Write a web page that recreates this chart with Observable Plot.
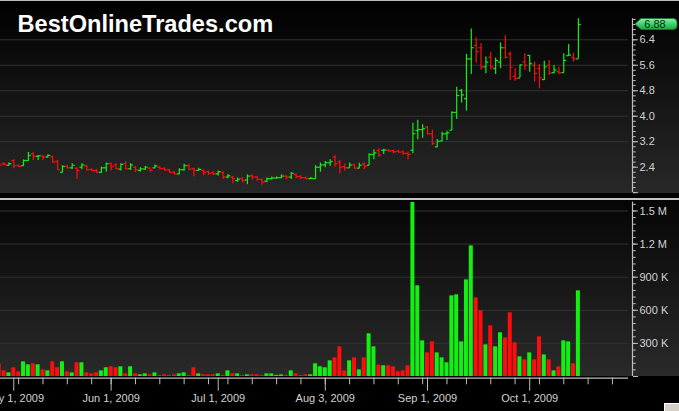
<!DOCTYPE html>
<html>
<head>
<meta charset="utf-8">
<script src="https://cdn.jsdelivr.net/npm/d3@7"></script>
<script src="https://cdn.jsdelivr.net/npm/@observablehq/plot@0.6"></script>
<style>
html, body { margin: 0; padding: 0; background: #000; }
#chart { position: relative; width: 679px; height: 411px; overflow: hidden; background: #000; }
#chart svg { display: block; }
#btn { position: absolute; left: 664px; top: 403px; width: 15px; height: 8px; background: #d4d0c8;
       border-top: 1px solid #fff; border-left: 1px solid #fff; box-sizing: border-box; }
</style>
</head>
<body>
<div id="chart"><div id="btn"></div></div>
<script>
// ---- categories (trading calendar) ----
const startDate = "2009-04-28";
const endDate = "2009-10-30";
const holidays = ["2009-05-25", "2009-07-03", "2009-09-07"];

// ---- OHLC series (one value per trading day from Apr 28 to Oct 15, 2009) ----
const open = [
  2.51, 2.51, 2.46, 2.61, 2.45, 2.45, 2.61, 2.82, 2.74, 2.75,
  2.72, 2.72, 2.58, 2.24, 2.43, 2.38, 2.37, 2.40, 2.44, 2.33,
  2.30, 2.24, 2.38, 2.51, 2.47, 2.34, 2.51, 2.35, 2.40, 2.30,
  2.34, 2.37, 2.38, 2.40, 2.36, 2.32, 2.24, 2.19, 2.32, 2.45,
  2.35, 2.30, 2.30, 2.26, 2.23, 2.19, 2.23, 2.09, 2.09, 1.98,
  2.04, 2.00, 2.13, 2.09, 2.01, 1.96, 2.04, 2.06, 2.07, 2.12,
  2.09, 2.17, 2.11, 2.07, 2.04, 2.04, 2.40, 2.47, 2.54, 2.72,
  2.56, 2.42, 2.38, 2.47, 2.37, 2.50, 2.46, 2.80, 2.92, 2.93,
  2.93, 2.92, 2.90, 2.88, 2.83, 2.93, 3.55, 3.58, 3.66, 3.45,
  3.04, 3.22, 3.45, 3.56, 4.12, 4.81, 4.55, 5.80, 6.22, 6.15,
  5.55, 5.85, 5.50, 5.70, 6.15, 5.96, 5.25, 5.20, 5.70, 5.91,
  5.60, 5.50, 5.15, 5.60, 5.37, 5.40, 5.37, 5.90, 5.85, 5.80
];
const high = [
  2.53, 2.54, 2.53, 2.63, 2.47, 2.63, 2.86, 2.86, 2.77, 2.77,
  2.79, 2.74, 2.61, 2.45, 2.45, 2.51, 2.38, 2.51, 2.45, 2.35,
  2.33, 2.40, 2.53, 2.53, 2.51, 2.51, 2.58, 2.51, 2.42, 2.38,
  2.42, 2.38, 2.47, 2.42, 2.38, 2.33, 2.27, 2.35, 2.49, 2.49,
  2.37, 2.37, 2.32, 2.28, 2.26, 2.28, 2.26, 2.17, 2.11, 2.06,
  2.07, 2.16, 2.16, 2.11, 2.04, 2.06, 2.09, 2.09, 2.16, 2.13,
  2.23, 2.19, 2.13, 2.09, 2.08, 2.45, 2.53, 2.58, 2.63, 2.76,
  2.61, 2.50, 2.53, 2.50, 2.52, 2.55, 2.82, 2.95, 2.98, 2.96,
  2.95, 2.94, 2.93, 2.92, 2.88, 3.78, 3.87, 3.73, 3.68, 3.56,
  3.27, 3.50, 3.53, 4.13, 4.91, 4.84, 5.94, 6.74, 6.46, 6.28,
  5.86, 6.01, 5.83, 6.30, 6.53, 6.01, 5.49, 5.61, 5.96, 5.91,
  5.70, 5.62, 5.73, 5.75, 5.59, 5.54, 5.96, 6.25, 5.98, 7.06
];
const low = [
  2.46, 2.45, 2.44, 2.35, 2.40, 2.43, 2.59, 2.61, 2.61, 2.61,
  2.69, 2.53, 2.30, 2.22, 2.34, 2.33, 2.01, 2.32, 2.28, 2.27,
  2.21, 2.21, 2.24, 2.28, 2.32, 2.28, 2.32, 2.30, 2.24, 2.24,
  2.30, 2.24, 2.35, 2.32, 2.27, 2.21, 2.16, 2.16, 2.27, 2.30,
  2.09, 2.27, 2.14, 2.14, 2.14, 2.12, 2.01, 2.04, 1.88, 1.93,
  1.90, 1.85, 2.00, 1.96, 1.83, 1.91, 2.00, 2.02, 2.04, 2.01,
  2.01, 2.04, 2.01, 2.01, 2.01, 2.02, 2.24, 2.38, 2.42, 2.40,
  2.19, 2.28, 2.37, 2.33, 2.35, 2.32, 2.45, 2.63, 2.71, 2.80,
  2.88, 2.82, 2.85, 2.77, 2.63, 2.82, 3.26, 3.31, 3.40, 3.08,
  3.01, 3.19, 3.24, 3.55, 3.90, 4.41, 4.16, 5.31, 5.67, 5.44,
  5.33, 5.44, 5.31, 5.49, 5.80, 5.12, 5.10, 5.20, 5.44, 5.38,
  5.07, 4.86, 5.12, 5.28, 5.33, 5.31, 5.36, 5.88, 5.70, 5.80
];
const close = [
  2.47, 2.49, 2.51, 2.45, 2.42, 2.61, 2.77, 2.74, 2.76, 2.72,
  2.77, 2.56, 2.32, 2.42, 2.38, 2.46, 2.30, 2.47, 2.32, 2.30,
  2.24, 2.38, 2.51, 2.42, 2.35, 2.49, 2.35, 2.47, 2.32, 2.35,
  2.40, 2.30, 2.44, 2.36, 2.32, 2.24, 2.19, 2.32, 2.45, 2.34,
  2.30, 2.33, 2.24, 2.21, 2.19, 2.26, 2.09, 2.13, 2.04, 2.02,
  1.98, 2.12, 2.09, 2.02, 1.93, 2.04, 2.06, 2.07, 2.12, 2.09,
  2.21, 2.11, 2.07, 2.04, 2.05, 2.40, 2.47, 2.54, 2.58, 2.51,
  2.40, 2.38, 2.47, 2.37, 2.46, 2.42, 2.80, 2.85, 2.78, 2.94,
  2.90, 2.88, 2.87, 2.84, 2.80, 3.45, 3.58, 3.61, 3.45, 3.14,
  3.21, 3.45, 3.48, 4.12, 4.65, 4.67, 5.80, 6.15, 6.03, 5.55,
  5.70, 5.55, 5.75, 6.15, 5.85, 5.54, 5.18, 5.61, 5.60, 5.65,
  5.35, 5.20, 5.55, 5.35, 5.45, 5.36, 5.75, 5.92, 5.80, 6.88
];
// volume in thousands of shares
const volumeK = [
  112, 51, 33, 79, 42, 133, 106, 115, 106, 60,
  51, 133, 79, 133, 42, 33, 124, 124, 33, 24,
  33, 51, 79, 88, 79, 88, 24, 88, 24, 15,
  24, 15, 33, 10, 15, 10, 15, 24, 33, 10,
  79, 24, 15, 15, 15, 24, 10, 51, 24, 24,
  10, 15, 15, 15, 10, 24, 24, 10, 15, 10,
  51, 24, 10, 15, 15, 115, 88, 79, 142, 169,
  269, 51, 142, 169, 60, 169, 387, 269, 103, 97,
  97, 88, 42, 51, 97, 1577, 822, 323, 214, 314,
  214, 169, 124, 731, 740, 314, 876, 1184, 713, 595,
  287, 459, 269, 396, 350, 577, 305, 178, 151, 214,
  151, 359, 196, 151, 51, 88, 323, 314, 115, 776
];
// G = up day, R = down day (as coloured in the picture)
const direction = [..."RRGRRGGRGR" + "GRRGRGRGRR" + "RGGRRGRGRG" + "GRGRRRRGGR" +
  "RGRRRGRGRG" + "RGRRRGGGGR" + "GRRRGGGGGR" + "RRGRGRGGRG" +
  "RRRRRGGGRR" + "GGGGGGGGRR" + "GRGGRRRGRG" + "RRGRGRGGRG"];

// ---- tick labels ----
const dateTickDays = ["2009-05-01", "2009-06-01", "2009-07-01", "2009-08-03", "2009-09-01", "2009-10-01"];
const dateTickLabels = ["May 1, 2009", "Jun 1, 2009", "Jul 1, 2009", "Aug 3, 2009", "Sep 1, 2009", "Oct 1, 2009"];
const priceTicks = [1.6, 2.4, 3.2, 4.0, 4.8, 5.6, 6.4];
const priceTickLabels = ["", "2.4", "3.2", "4.0", "4.8", "5.6", "6.4"];
const priceGrid = [3.2, 4.0, 4.8, 5.6, 6.4];
const volTicks = [0, 300000, 600000, 900000, 1200000, 1500000];
const volTickLabels = ["", "300 K", "600 K", "900 K", "1.2 M", "1.5 M"];
const title = "BestOnlineTrades.com";

// ---- build table ----
const tradingDays = [];
for (let t = Date.parse(startDate); t <= Date.parse(endDate); t += 864e5) {
  const d = new Date(t), wd = d.getUTCDay(), s = d.toISOString().slice(0, 10);
  if (wd === 0 || wd === 6 || holidays.includes(s)) continue;
  tradingDays.push(s);
}
const weekday = s => new Date(s + "T00:00:00Z").getUTCDay();
const minorDateTicks = tradingDays.map((s, i) => i)
  .filter(i => i > 0 && weekday(tradingDays[i]) < weekday(tradingDays[i - 1]));
const majorDateTicks = dateTickDays.map(s => tradingDays.indexOf(s));

const GREEN = "#12f012", RED = "#ff0d0d";
const bars = close.map((c, i) => ({
  i, date: tradingDays[i], o: open[i], h: high[i], l: low[i], c,
  v: volumeK[i] * 1000, col: direction[i] === "G" ? GREEN : RED
}));

const xDomain = [0.27, 130.12];
const gridEnd = 129.3;
const AX = "#bdbdbd", TX = "#d2d2d2";
const font = "'Liberation Sans', Arial, sans-serif";

// ---- price panel ----
const price = Plot.plot({
  width: 679, height: 197,
  marginTop: 1, marginBottom: 4, marginLeft: 0, marginRight: 47,
  style: {
    background: "linear-gradient(to bottom, #bdbdbd 0px, #bdbdbd 1px, #000 1px, #282828 193px, #000 193px)",
    fontFamily: font, fontSize: "11px", color: TX, overflow: "visible"
  },
  x: {domain: xDomain, axis: null},
  y: {domain: [1.574, 7.602], axis: null},
  color: {type: "identity"},
  marks: [
    Plot.ruleY(priceGrid, {x1: xDomain[0], x2: gridEnd, stroke: "#333333"}),
    Plot.ruleX(bars, {x: "i", y1: "l", y2: "h", stroke: "col", strokeWidth: 1.2}),
    Plot.link(bars, {x1: d => d.i - 0.5, x2: "i", y1: "o", y2: "o", stroke: "col", strokeWidth: 1.2}),
    Plot.link(bars, {x1: "i", x2: d => d.i + 0.5, y1: "c", y2: "c", stroke: "col", strokeWidth: 1.2}),
    Plot.ruleX([xDomain[1]], {y1: 1.6, y2: 7.06, stroke: AX, strokeWidth: 1.2}),
    Plot.axisY(d3.range(0, 35).map(k => +(1.6 + 0.16 * k).toFixed(2)),
      {anchor: "right", tickSize: 2.7, tickFormat: () => "", stroke: AX, label: null}),
    Plot.axisY(priceTicks, {anchor: "right", tickSize: 5, tickPadding: 2, stroke: AX, fill: TX,
      fontSize: 11, label: null, tickFormat: d => priceTickLabels[priceTicks.indexOf(d)]}),
    Plot.text([title], {frameAnchor: "top-left", text: d => d, dx: 17, dy: 13.5,
      lineAnchor: "top", textAnchor: "start", fill: "white", fontSize: 23.6, fontWeight: "bold",
      fontFamily: font})
  ]
});

// last-price badge
{
  const last = bars[bars.length - 1];
  const yc = price.scale("y").apply(last.c);
  const svg = d3.select(price);
  const defs = svg.append("defs");
  const g = defs.append("linearGradient").attr("id", "badgeGrad").attr("x1", 0).attr("x2", 0).attr("y1", 0).attr("y2", 1);
  g.append("stop").attr("offset", "0%").attr("stop-color", "#8af0a6");
  g.append("stop").attr("offset", "50%").attr("stop-color", "#3fd468");
  g.append("stop").attr("offset", "100%").attr("stop-color", "#1fa845");
  const x0 = 635, x1 = 677, h = 5.5;
  svg.append("path")
    .attr("d", `M${x0},${yc} L${x0 + 6},${yc - h} L${x1 - 4},${yc - h} Q${x1},${yc - h} ${x1},${yc - 1.5} L${x1},${yc + 1.5} Q${x1},${yc + h} ${x1 - 4},${yc + h} L${x0 + 6},${yc + h} Z`)
    .attr("fill", "url(#badgeGrad)").attr("stroke", "#1b7a37").attr("stroke-width", 0.8);
  svg.append("text").attr("x", 655).attr("y", yc).attr("dy", "0.35em")
    .attr("text-anchor", "middle").attr("font-size", 11).attr("font-family", font)
    .attr("fill", "#07260e").text(last.c.toFixed(2));
}

// ---- volume panel ----
const volume = Plot.plot({
  width: 679, height: 214,
  marginTop: 3, marginBottom: 35, marginLeft: 0, marginRight: 47,
  style: {
    background: "linear-gradient(to bottom, #000 0px, #000 0.7px, #c4c4c4 0.7px, #c4c4c4 3px, #050505 3px, #2a2a2a 179px, #000 179px)",
    fontFamily: font, fontSize: "11px", color: TX, overflow: "visible"
  },
  x: {domain: xDomain, axis: null},
  y: {domain: [0, 1595000], axis: null},
  color: {type: "identity"},
  marks: [
    Plot.ruleY(volTicks.filter(v => v > 0), {x1: xDomain[0], x2: gridEnd, stroke: "#333333"}),
    Plot.rect(bars, {x1: d => d.i - 0.41, x2: d => d.i + 0.41, y1: 0, y2: "v", fill: "col"}),
    Plot.ruleX([xDomain[1]], {y1: 0, y2: 1580000, stroke: AX, strokeWidth: 1.2}),
    Plot.axisY(d3.range(0, 27).map(k => k * 60000),
      {anchor: "right", tickSize: 2.7, tickFormat: () => "", stroke: AX, label: null}),
    Plot.axisY(volTicks, {anchor: "right", tickSize: 5, tickPadding: 2, stroke: AX, fill: TX,
      fontSize: 11, label: null, tickFormat: d => volTickLabels[volTicks.indexOf(d)]}),
    Plot.ruleY([0], {x1: xDomain[0], x2: gridEnd, dy: 1.7, stroke: AX, strokeWidth: 1.3}),
    Plot.axisX(minorDateTicks, {anchor: "bottom", tickSize: 6.6, dy: 1.7, stroke: AX,
      tickFormat: () => "", label: null}),
    Plot.axisX(majorDateTicks, {anchor: "bottom", tickSize: 13, tickPadding: 2.5, dy: 1.7,
      stroke: AX, fill: TX, fontSize: 11, label: null,
      tickFormat: i => dateTickLabels[majorDateTicks.indexOf(i)]})
  ]
});

const chart = document.getElementById("chart");
chart.insertBefore(price, chart.firstChild);
chart.insertBefore(volume, document.getElementById("btn"));
</script>
</body>
</html>
